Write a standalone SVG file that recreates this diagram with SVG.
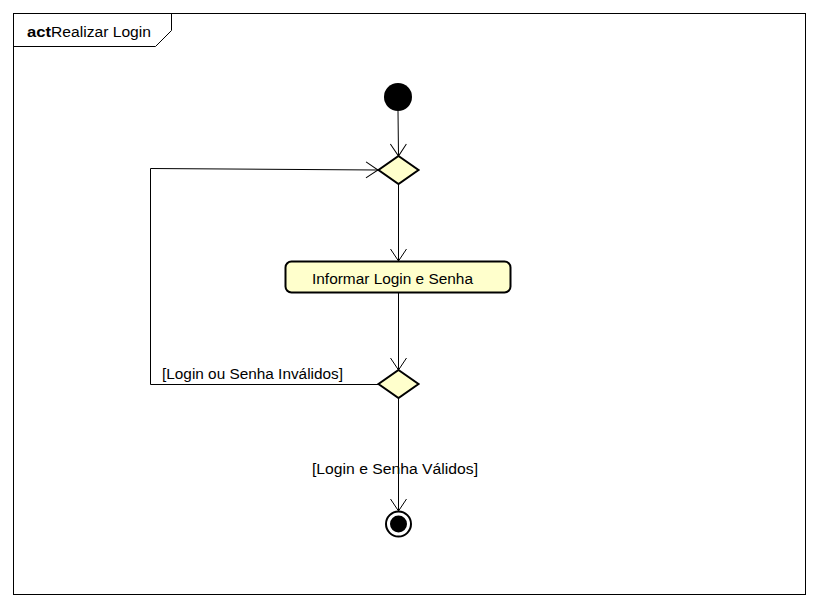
<svg xmlns="http://www.w3.org/2000/svg" width="818" height="606" viewBox="0 0 818 606">
<defs>
<style>
.t{font-family:"Liberation Sans",Arial,sans-serif;font-size:15.5px;fill:#000}
.ln{fill:none;stroke:#000;stroke-width:1}
.dia{fill:#ffffcc;stroke:#000;stroke-width:2}
</style>
<marker id="arr" viewBox="0 0 14 18" refX="13" refY="9" markerWidth="14" markerHeight="18" markerUnits="userSpaceOnUse" orient="auto">
<path d="M1,1 L13,9 L1,17" fill="none" stroke="#000" stroke-width="1"/>
</marker>
</defs>
<rect width="818" height="606" fill="#fff"/>
<g id="frame">
<rect x="13.5" y="13.5" width="792" height="581" fill="none" stroke="#000"/>
<path d="M13.5,46.5 L155.5,46.5 L171.5,30.5 L171.5,13.5" class="ln"/>
<text x="27" y="37" class="t"><tspan font-weight="bold" textLength="24" lengthAdjust="spacingAndGlyphs">act</tspan><tspan textLength="100" lengthAdjust="spacingAndGlyphs">Realizar Login</tspan></text>
</g>
<g id="connectors">
<line x1="398" y1="111" x2="398.5" y2="156" class="ln" marker-end="url(#arr)"/>
<line x1="398.5" y1="184" x2="398.5" y2="261" class="ln" marker-end="url(#arr)"/>
<line x1="398.5" y1="292" x2="398.5" y2="370" class="ln" marker-end="url(#arr)"/>
<polyline points="378,384.5 150.5,384.5 150.5,168.5 378,170" class="ln" marker-end="url(#arr)"/>
<line x1="398.5" y1="398" x2="398.5" y2="511" class="ln" marker-end="url(#arr)"/>
<text x="162" y="379" class="t" textLength="181" lengthAdjust="spacingAndGlyphs">[Login ou Senha Inválidos]</text>
<text x="312" y="474" class="t" textLength="166" lengthAdjust="spacingAndGlyphs">[Login e Senha Válidos]</text>
</g>
<g id="start">
<circle cx="398" cy="97" r="14" fill="#000"/>
</g>
<g id="decision1">
<polygon points="398.5,156 418.5,170 398.5,184 378.5,170" class="dia"/>
</g>
<g id="action">
<rect x="285.5" y="261.5" width="225" height="31" rx="6" ry="6" fill="#ffffcc" stroke="#000" stroke-width="2"/>
<text x="312" y="284" class="t" textLength="161" lengthAdjust="spacingAndGlyphs">Informar Login e Senha</text>
</g>
<g id="decision2">
<polygon points="398.5,370 418.5,384 398.5,398 378.5,384" class="dia"/>
</g>
<g id="final">
<circle cx="398.5" cy="524" r="12.5" fill="#fff" stroke="#000" stroke-width="2"/>
<circle cx="398.5" cy="524" r="8.5" fill="#000"/>
</g>
</svg>
